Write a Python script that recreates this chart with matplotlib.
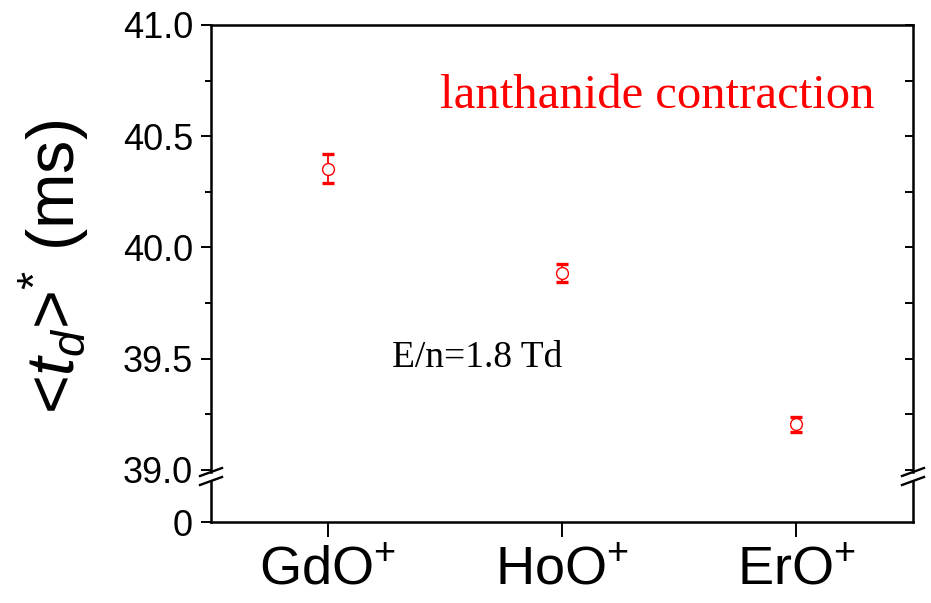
import numpy as np
import matplotlib
matplotlib.use("Agg")
import matplotlib.pyplot as plt
from matplotlib.lines import Line2D
from matplotlib.markers import TICKLEFT

plt.rcParams["font.family"] = ["Liberation Sans", "DejaVu Sans"]
plt.rcParams["mathtext.fontset"] = "custom"
plt.rcParams["mathtext.rm"] = "Liberation Sans"
plt.rcParams["mathtext.it"] = "Liberation Sans:italic"
plt.rcParams["mathtext.bf"] = "Liberation Sans:bold"

# drift time per ion, E/n = 1.8 Td
ions = ["GdO", "HoO", "ErO"]
td = [40.355, 39.885, 39.205]
td_err = [0.065, 0.04, 0.035]
yticks_top = [39.0, 39.5, 40.0, 40.5, 41.0]

W, H = 931, 603
fig = plt.figure(figsize=(W / 100, H / 100), dpi=100)

# pixel box -> figure fraction
def box(x0, y0, x1, y1):
    return [x0 / W, 1 - y1 / H, (x1 - x0) / W, (y1 - y0) / H]

ax = fig.add_axes(box(211, 25, 913, 472))
axb = fig.add_axes(box(211, 481, 913, 522), sharex=ax)

x = np.arange(1, len(ions) + 1)
ax.errorbar(x, td, yerr=td_err, fmt="none", ecolor="red", elinewidth=1.3,
            capsize=4.5, capthick=2.4)
ax.plot(x, td, "o", ls="none", ms=8.5, mfc="white", mec="red", mew=1.0)

ax.set_xlim(0.5, len(ions) + 0.5)
ax.set_ylim(38.991, 41.0)
axb.set_ylim(0, 1)

lw = 1.8
for a in (ax, axb):
    for s in a.spines.values():
        s.set_linewidth(lw)
ax.spines["bottom"].set_visible(False)
axb.spines["top"].set_visible(False)

# upper part: outward ticks on the left, inward on the right
ax.set_yticks(yticks_top)
ax.set_yticklabels([f"{v:.1f}" for v in yticks_top])
ax.set_yticks([39.25, 39.75, 40.25, 40.75], minor=True)
ax.tick_params(axis="y", which="major", direction="out", length=7, width=1.4,
               labelsize=26, pad=6, right=True)
ax.tick_params(axis="y", which="minor", direction="out", length=4, width=1.4, right=True)
ax.tick_params(axis="x", bottom=False, labelbottom=False)
for tick in ax.yaxis.get_major_ticks() + ax.yaxis.get_minor_ticks():
    tick.tick2line.set_marker(TICKLEFT)
    tick.tick2line.set_markersize(6)

# lower part: only the zero
axb.set_yticks([0])
axb.set_yticklabels(["0"])
axb.tick_params(axis="y", direction="out", length=7, width=1.4, labelsize=26, pad=6)
axb.set_xticks(x)
axb.set_xticklabels([f"{n}$^{{+}}$" for n in ions])
axb.tick_params(axis="x", direction="out", length=11, width=1.4, labelsize=39, pad=6)

# axis break marks on both spines
dx, dy = 11, 4
for xs in (211, 913):
    for ys in (472, 481):
        fig.add_artist(Line2D([(xs - dx) / W, (xs + dx) / W],
                              [1 - (ys + dy) / H, 1 - (ys - dy) / H],
                              color="black", lw=1.7, transform=fig.transFigure,
                              clip_on=False))

fig.text(54 / W, 1 - 267 / H, r"<$t_{d}$>$^{*}$ (ms)", rotation=90,
         ha="center", va="center", fontsize=48)

ax.text(0.326, 0.814, "lanthanide contraction", transform=ax.transAxes,
        color="red", fontsize=35, family="Liberation Serif", va="baseline")
ax.text(0.258, 0.235, "E/n=1.8 Td", transform=ax.transAxes,
        color="black", fontsize=27, family="Liberation Serif", va="baseline")

fig.savefig("out.png", dpi=100)
